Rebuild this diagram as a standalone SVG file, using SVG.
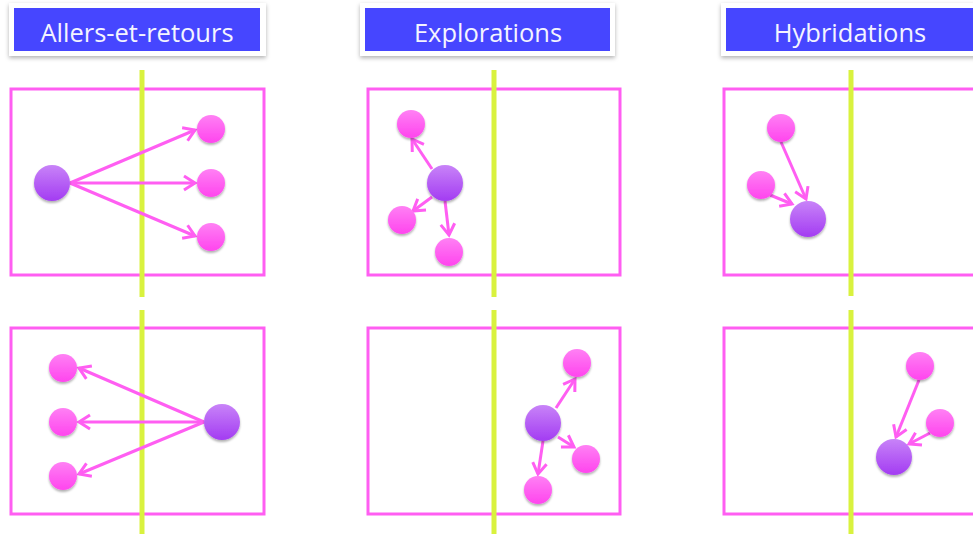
<svg xmlns="http://www.w3.org/2000/svg" width="973" height="535" viewBox="0 0 973 535">
<style>
.frame{fill:none;stroke:#ff5ef2;stroke-width:3}
.axis{stroke:#d9f23e;stroke-width:5}
.small{fill:url(#gPink);filter:url(#sh)}
.big{fill:url(#gPurple);filter:url(#sh)}
.conn line{stroke:#ff5ef2;stroke-width:3;marker-end:url(#arr)}
.tbox{fill:#fff;filter:url(#tsh)}
.tblue{fill:#4646ff}
.ttext{font-family:"Open Sans","Noto Sans",sans-serif;font-size:25.5px;fill:#f4f4ff;text-anchor:middle}
</style>
<defs>
<linearGradient id="gPink" x1="0" y1="0" x2="0" y2="1"><stop offset="0" stop-color="#ff80f4"/><stop offset="1" stop-color="#ff45ee"/></linearGradient>
<linearGradient id="gPurple" x1="0" y1="0" x2="0" y2="1"><stop offset="0" stop-color="#c883f8"/><stop offset="1" stop-color="#a33cf2"/></linearGradient>
<filter id="sh" x="-30%" y="-30%" width="160%" height="170%"><feDropShadow dx="0" dy="2" stdDeviation="1.2" flood-color="#000" flood-opacity="0.3"/></filter>
<filter id="tsh" x="-5%" y="-20%" width="110%" height="150%"><feDropShadow dx="0" dy="2" stdDeviation="2" flood-color="#000" flood-opacity="0.3"/></filter>
<marker id="arr" markerUnits="userSpaceOnUse" markerWidth="18" markerHeight="18" refX="13" refY="8" orient="auto" overflow="visible"><path d="M2,1 L13,8 L2,15" fill="none" stroke="#ff5ef2" stroke-width="3" stroke-linejoin="miter"/></marker>
</defs>

<g id="title-allers"><rect class="tbox" x="9" y="3" width="257" height="53"/><rect class="tblue" x="14" y="8" width="246" height="43"/><text class="ttext" x="137" y="42">Allers-et-retours</text></g>
<g id="title-explorations"><rect class="tbox" x="360" y="3" width="255" height="53"/><rect class="tblue" x="365" y="8" width="245" height="43"/><text class="ttext" x="488" y="42">Explorations</text></g>
<g id="title-hybridations"><rect class="tbox" x="721" y="3" width="260" height="53"/><rect class="tblue" x="726" y="8" width="250" height="43"/><text class="ttext" x="850" y="42">Hybridations</text></g>

<g id="frames">
<rect class="frame" x="11" y="89" width="253" height="186"/>
<rect class="frame" x="368" y="89" width="252" height="186"/>
<rect class="frame" x="724" y="89" width="260" height="186"/>
<rect class="frame" x="11" y="328" width="253" height="186"/>
<rect class="frame" x="368" y="328" width="252" height="186"/>
<rect class="frame" x="724" y="328" width="260" height="186"/>
</g>
<g id="axes">
<line class="axis" x1="142" y1="70" x2="142" y2="297"/>
<line class="axis" x1="494" y1="70" x2="494" y2="297"/>
<line class="axis" x1="851" y1="70" x2="851" y2="296"/>
<line class="axis" x1="142" y1="310" x2="142" y2="534"/>
<line class="axis" x1="494" y1="310" x2="494" y2="534"/>
<line class="axis" x1="851" y1="310" x2="851" y2="534"/>
</g>

<g class="conn" id="connectors">
<line x1="70" y1="183" x2="195" y2="130"/>
<line x1="70" y1="183" x2="195" y2="183"/>
<line x1="70" y1="183" x2="195" y2="236"/>
<line x1="204" y1="422" x2="79" y2="368"/>
<line x1="204" y1="422" x2="79" y2="422"/>
<line x1="204" y1="422" x2="79" y2="474"/>
<line x1="432" y1="169" x2="412" y2="139"/>
<line x1="432" y1="197" x2="413" y2="211"/>
<line x1="445" y1="201" x2="449" y2="235"/>
<line x1="556" y1="408" x2="575" y2="379"/>
<line x1="558" y1="437" x2="574" y2="447"/>
<line x1="543" y1="441" x2="538" y2="474"/>
<line x1="781" y1="142" x2="806" y2="199"/>
<line x1="770" y1="195" x2="792" y2="204"/>
<line x1="919" y1="380" x2="896" y2="437"/>
<line x1="930" y1="433" x2="909" y2="444"/>
</g>

<g id="n-ar1-src"><circle class="big" cx="52" cy="183" r="18"/></g>
<g id="n-ar1-a"><circle class="small" cx="211" cy="129" r="14"/></g>
<g id="n-ar1-b"><circle class="small" cx="211" cy="183" r="14"/></g>
<g id="n-ar1-c"><circle class="small" cx="211" cy="237" r="14"/></g>

<g id="n-ar2-src"><circle class="big" cx="222" cy="422" r="18"/></g>
<g id="n-ar2-a"><circle class="small" cx="63" cy="368" r="14"/></g>
<g id="n-ar2-b"><circle class="small" cx="63" cy="422" r="14"/></g>
<g id="n-ar2-c"><circle class="small" cx="63" cy="476" r="14"/></g>

<g id="n-ex1-src"><circle class="big" cx="445" cy="183" r="18"/></g>
<g id="n-ex1-a"><circle class="small" cx="411" cy="124" r="14"/></g>
<g id="n-ex1-b"><circle class="small" cx="402" cy="220" r="14"/></g>
<g id="n-ex1-c"><circle class="small" cx="449" cy="252" r="14"/></g>

<g id="n-ex2-src"><circle class="big" cx="543" cy="423" r="18"/></g>
<g id="n-ex2-a"><circle class="small" cx="577" cy="363" r="14"/></g>
<g id="n-ex2-b"><circle class="small" cx="586" cy="459" r="14"/></g>
<g id="n-ex2-c"><circle class="small" cx="538" cy="490" r="14"/></g>

<g id="n-hy1-dst"><circle class="big" cx="808" cy="219" r="18"/></g>
<g id="n-hy1-a"><circle class="small" cx="781" cy="128" r="14"/></g>
<g id="n-hy1-b"><circle class="small" cx="761" cy="185" r="14"/></g>

<g id="n-hy2-dst"><circle class="big" cx="894" cy="457" r="18"/></g>
<g id="n-hy2-a"><circle class="small" cx="920" cy="366" r="14"/></g>
<g id="n-hy2-b"><circle class="small" cx="940" cy="423" r="14"/></g>
</svg>
